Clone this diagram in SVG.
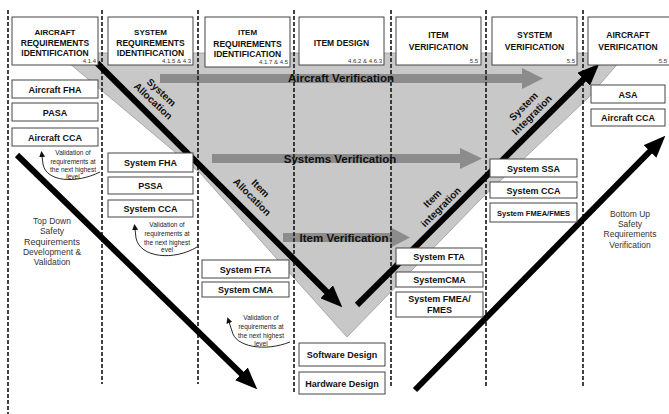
<svg xmlns="http://www.w3.org/2000/svg" width="669" height="414" viewBox="0 0 669 414">
<style>
  .box{fill:#fff;stroke:#444;stroke-width:1}
  .hd{font-family:"Liberation Sans",Arial,sans-serif;font-weight:bold;font-size:8.5px;fill:#111;text-anchor:middle}
  .hd1{font-size:8px}
  .num{font-family:"Liberation Sans",Arial,sans-serif;font-size:6px;fill:#333;text-anchor:end}
  .lb{font-family:"Liberation Sans",Arial,sans-serif;font-weight:bold;font-size:9px;fill:#111;text-anchor:middle}
  .sm{font-family:"Liberation Sans",Arial,sans-serif;font-size:6.5px;fill:#222;text-anchor:middle}
  .nt{font-family:"Liberation Sans",Arial,sans-serif;font-size:8.5px;fill:#333;text-anchor:middle}
  .rot{font-family:"Liberation Sans",Arial,sans-serif;font-weight:bold;font-size:10px;fill:#111;text-anchor:middle}
  .bt{font-family:"Liberation Sans",Arial,sans-serif;font-weight:bold;font-size:11.5px;fill:#111;text-anchor:middle}
  .dash{stroke:#222;stroke-width:1.7;stroke-dasharray:4 2;fill:none}
  .big{stroke:#000;stroke-width:6;fill:none;marker-end:url(#bh)}
  .thin{stroke:#111;stroke-width:0.9;fill:none;marker-end:url(#sh)}
  .bar{fill:#8c8c8c}
</style>
<defs>
  <marker id="bh" markerUnits="userSpaceOnUse" markerWidth="22" markerHeight="18" viewBox="0 0 22 18" refX="1" refY="9" orient="auto">
    <path d="M0,0 L22,9 L0,18 Z" fill="#000"/>
  </marker>
  <marker id="sh" markerUnits="userSpaceOnUse" markerWidth="6" markerHeight="6" viewBox="0 0 6 6" refX="1" refY="3" orient="auto">
    <path d="M0,0 L6,3 L0,6 Z" fill="#111"/>
  </marker>
</defs>
<rect width="669" height="414" fill="#fff"/>

<!-- gray V -->
<polygon points="57,53 627,53 588,98 480,200 347,337 200,173" fill="#c8c8c8" stroke="#9a9a9a" stroke-width="0.8"/>

<!-- gray verification arrows -->
<g id="verif-bars">
  <path class="bar" d="M160,74 H522 V68 L543,78.5 L522,89 V83 H160 Z"/>
  <path class="bar" d="M212,154 H460 V148 L482,158.5 L460,169 V163 H212 Z"/>
  <path class="bar" d="M283,233 H390 V227 L410,237.5 L390,248 V242 H283 Z"/>
</g>

<!-- dashed column separators -->
<g id="separators">
  <line class="dash" x1="8" y1="10" x2="8" y2="414"/>
  <line class="dash" x1="102" y1="10" x2="102" y2="384"/>
  <line class="dash" x1="198" y1="10" x2="198" y2="384"/>
  <line class="dash" x1="294" y1="10" x2="294" y2="392"/>
  <line class="dash" x1="391" y1="10" x2="391" y2="386"/>
  <line class="dash" x1="486" y1="10" x2="486" y2="388"/>
  <line class="dash" x1="583" y1="10" x2="583" y2="387"/>
</g>

<g id="verif-labels">
  <text class="bt" x="341" y="82">Aircraft Verification</text>
  <text class="bt" x="340" y="163">Systems Verification</text>
  <text class="bt" x="344" y="242">Item Verification</text>
</g>

<!-- connectors -->
<g id="connectors">
  <line class="big" x1="97" y1="63" x2="327.4" y2="292.5"/>
  <line class="big" x1="357" y1="305" x2="584.4" y2="78.5"/>
  <line class="big" x1="17" y1="155" x2="242.2" y2="374.6"/>
  <line class="big" x1="415" y1="390" x2="650.6" y2="150.7"/>
  <path class="thin" d="M100,172 C76,184 46,182 43,164 L42,156"/>
  <path class="thin" d="M197,247 C174,261 140,258 136,238 L135,229"/>
  <path class="thin" d="M290,342 C265,352 235,347 232,331 L229,322"/>
</g>

<g id="rot-labels">
  <g transform="translate(157,97) rotate(43)"><text class="rot" x="0" y="-3">System</text><text class="rot" x="0" y="9">Allocation</text></g>
  <g transform="translate(256,193) rotate(45)"><text class="rot" x="0" y="-3">Item</text><text class="rot" x="0" y="9">Allocation</text></g>
  <g transform="translate(437,203) rotate(-45)"><text class="rot" x="0" y="-3">Item</text><text class="rot" x="0" y="9">integration</text></g>
  <g transform="translate(528,111) rotate(-45)"><text class="rot" x="0" y="-3">System</text><text class="rot" x="0" y="9">Integration</text></g>
</g>

<!-- header boxes -->
<g id="h-aircraft-req"><rect class="box" x="12" y="17" width="86" height="48"/>
  <text class="hd hd1" x="55" y="35">AIRCRAFT</text><text class="hd" x="55" y="46">REQUIREMENTS</text><text class="hd" x="55" y="56">IDENTIFICATION</text>
  <text class="num" x="96" y="63">4.1.4</text></g>
<g id="h-system-req"><rect class="box" x="108" y="17" width="85" height="48"/>
  <text class="hd hd1" x="150.5" y="35">SYSTEM</text><text class="hd" x="150.5" y="46">REQUIREMENTS</text><text class="hd" x="150.5" y="56">IDENTIFICATION</text>
  <text class="num" x="191" y="63">4.1.5 &amp; 4.3</text></g>
<g id="h-item-req"><rect class="box" x="205" y="17" width="85" height="50"/>
  <text class="hd hd1" x="247.5" y="35">ITEM</text><text class="hd" x="247.5" y="47">REQUIREMENTS</text><text class="hd" x="247.5" y="57">IDENTIFICATION</text>
  <text class="num" x="288" y="64">4.1.7 &amp; 4.5</text></g>
<g id="h-item-design"><rect class="box" x="299" y="17" width="85" height="48"/>
  <text class="hd" x="341.5" y="46">ITEM DESIGN</text>
  <text class="num" x="382" y="63">4.6.2 &amp; 4.6.3</text></g>
<g id="h-item-verif"><rect class="box" x="396" y="17" width="85" height="48"/>
  <text class="hd" x="438.5" y="38">ITEM</text><text class="hd" x="438.5" y="50">VERIFICATION</text>
  <text class="num" x="478" y="63">5.5</text></g>
<g id="h-system-verif"><rect class="box" x="492" y="17" width="85" height="48"/>
  <text class="hd" x="534.5" y="38">SYSTEM</text><text class="hd" x="534.5" y="50">VERIFICATION</text>
  <text class="num" x="575" y="63">5.5</text></g>
<g id="h-aircraft-verif"><rect class="box" x="588" y="17" width="85" height="48"/>
  <text class="hd" x="628" y="38">AIRCRAFT</text><text class="hd" x="628" y="50">VERIFICATION</text>
  <text class="num" x="667" y="63">5.5</text></g>

<!-- column 1 -->
<g id="aircraft-fha"><rect class="box" x="12" y="80" width="86" height="18"/><text class="lb" x="55" y="92.5">Aircraft FHA</text></g>
<g id="pasa"><rect class="box" x="12" y="103" width="86" height="18"/><text class="lb" x="55" y="115.5">PASA</text></g>
<g id="aircraft-cca"><rect class="box" x="12" y="128" width="86" height="18"/><text class="lb" x="55" y="140.5">Aircraft CCA</text></g>
<g id="val1"><text class="sm" x="73" y="155">Validation of</text><text class="sm" x="73" y="164">requirements at</text><text class="sm" x="73" y="172">the next highest</text><text class="sm" x="73" y="179">level</text></g>
<g id="topdown"><text class="nt" x="52" y="224">Top Down</text><text class="nt" x="52" y="234">Safety</text><text class="nt" x="52" y="245" style="font-size:9px">Requirements</text><text class="nt" x="52" y="255">Development &amp;</text><text class="nt" x="52" y="265">Validation</text></g>

<!-- column 2 -->
<g id="system-fha"><rect class="box" x="108" y="153" width="85" height="19"/><text class="lb" x="150.5" y="166">System FHA</text></g>
<g id="pssa"><rect class="box" x="108" y="177" width="85" height="17"/><text class="lb" x="150.5" y="189">PSSA</text></g>
<g id="system-cca-1"><rect class="box" x="108" y="200" width="85" height="17"/><text class="lb" x="150.5" y="212">System CCA</text></g>
<g id="val2"><text class="sm" x="167" y="227">Validation of</text><text class="sm" x="167" y="236">requirements at</text><text class="sm" x="167" y="245">the next highest</text><text class="sm" x="167" y="252">evel</text></g>

<!-- column 3 -->
<g id="system-fta-1"><rect class="box" x="202" y="260" width="87" height="18"/><text class="lb" x="245.5" y="272.5">System FTA</text></g>
<g id="system-cma-1"><rect class="box" x="202" y="282" width="87" height="15"/><text class="lb" x="245.5" y="293">System CMA</text></g>
<g id="val3"><text class="sm" x="261" y="320">Validation of</text><text class="sm" x="261" y="329">requirements at</text><text class="sm" x="261" y="338">the next highest</text><text class="sm" x="261" y="346">level</text></g>

<!-- column 4 -->
<g id="software-design"><rect class="box" x="299" y="343" width="86" height="23"/><text class="lb" x="342" y="358">Software Design</text></g>
<g id="hardware-design"><rect class="box" x="299" y="372" width="86" height="22"/><text class="lb" x="342" y="386.5">Hardware Design</text></g>

<!-- column 5 -->
<g id="system-fta-2"><rect class="box" x="396" y="248" width="86" height="17"/><text class="lb" x="439" y="260">System FTA</text></g>
<g id="system-cma-2"><rect class="box" x="396" y="272" width="87" height="15"/><text class="lb" x="439.5" y="283">SystemCMA</text></g>
<g id="system-fmea-1"><rect class="box" x="396" y="292" width="87" height="25"/><text class="lb" x="439.5" y="302">System FMEA/</text><text class="lb" x="439.5" y="313">FMES</text></g>

<!-- column 6 -->
<g id="system-ssa"><rect class="box" x="490" y="159" width="87" height="18"/><text class="lb" x="533.5" y="171.5">System SSA</text></g>
<g id="system-cca-2"><rect class="box" x="490" y="182" width="87" height="16"/><text class="lb" x="533.5" y="193.5">System CCA</text></g>
<g id="system-fmea-2"><rect class="box" x="490" y="203" width="87" height="19"/><text class="lb" x="533.5" y="215.5" style="font-size:7.5px">System FMEA/FMES</text></g>

<!-- column 7 -->
<g id="asa"><rect class="box" x="591" y="85" width="74" height="18"/><text class="lb" x="628" y="97.5">ASA</text></g>
<g id="aircraft-cca-2"><rect class="box" x="591" y="109" width="74" height="17"/><text class="lb" x="628" y="121">Aircraft CCA</text></g>
<g id="bottomup"><text class="nt" x="630" y="217">Bottom Up</text><text class="nt" x="630" y="227">Safety</text><text class="nt" x="630" y="237">Requirements</text><text class="nt" x="630" y="248">Verification</text></g>
</svg>
